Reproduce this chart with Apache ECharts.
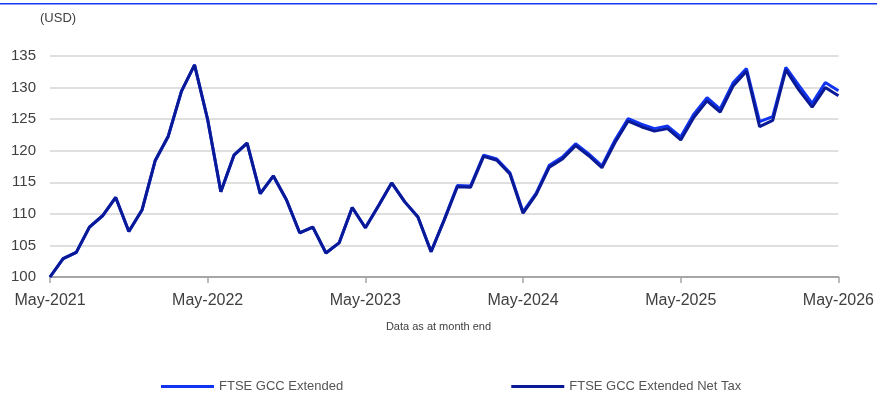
<!DOCTYPE html>
<html>
<head>
<meta charset="utf-8">
<script src="https://cdn.jsdelivr.net/npm/echarts@6/dist/echarts.min.js"></script>
<style>
  html, body { margin: 0; padding: 0; background: #fff; }
  #chart { width: 877px; height: 397px; }
</style>
</head>
<body>
<div id="chart"></div>
<script>
// month-end index levels, May-2021 .. May-2026
var months = [];
for (var y = 2021; y <= 2026; y++) {
  var mList = ['Jan','Feb','Mar','Apr','May','Jun','Jul','Aug','Sep','Oct','Nov','Dec'];
  for (var m = 0; m < 12; m++) {
    if (y === 2021 && m < 4) continue;
    if (y === 2026 && m > 4) break;
    months.push(mList[m] + '-' + y);
  }
}

var extended = [
  100, 102.9, 103.9, 107.9, 109.7, 112.6, 107.2, 110.6, 118.4, 122.3,
  129.4, 133.6, 124.9, 113.5, 119.3, 121.2, 113.2, 116.0, 112.2, 107.0,
  107.9, 103.8, 105.4, 111.0, 107.8, 111.3, 114.9, 111.9, 109.5, 104.0,
  109.1, 114.5, 114.4, 119.3, 118.7, 116.5, 110.3, 113.3, 117.7, 119.0,
  121.1, 119.5, 117.6, 121.7, 125.1, 124.2, 123.5, 123.9, 122.2, 125.8,
  128.4, 126.6, 130.8, 133.0, 124.6, 125.4, 133.2, 130.3, 127.5, 130.8,
  129.5
];

var netTax = [
  100, 102.9, 103.9, 107.9, 109.7, 112.6, 107.2, 110.6, 118.4, 122.3,
  129.4, 133.6, 124.9, 113.5, 119.3, 121.2, 113.2, 116.0, 112.2, 107.0,
  107.9, 103.8, 105.4, 111.0, 107.8, 111.3, 114.9, 111.9, 109.5, 104.0,
  109.0, 114.3, 114.2, 119.1, 118.5, 116.3, 110.1, 113.1, 117.4, 118.7,
  120.8, 119.2, 117.3, 121.3, 124.7, 123.8, 123.1, 123.5, 121.7, 125.3,
  127.9, 126.1, 130.3, 132.6, 123.8, 124.8, 132.8, 129.6, 126.9, 130.0,
  128.7
];

var chart = echarts.init(document.getElementById('chart'));
var option = {
  animation: false,
  textStyle: { fontFamily: 'Liberation Sans, Arial, sans-serif' },
  grid: { left: 50, right: 38, top: 56, bottom: 120 },
  graphic: [
    { type: 'rect', left: 0, top: 3, shape: { width: 877, height: 1.5 }, style: { fill: '#1438f5' } },
    { type: 'text', left: 40, top: 12, style: { text: '(USD)', font: '13px Liberation Sans', fill: '#404040' } },
    { type: 'text', left: 'center', top: 321, style: { text: 'Data as at month end', font: '11px Liberation Sans', fill: '#404040' } }
  ],
  legend: {
    top: 375,
    left: 156,
    itemGap: 168,
    itemWidth: 53,
    itemHeight: 3,
    icon: 'rect',
    textStyle: { fontSize: 13, color: '#555' },
    data: ['FTSE GCC Extended', 'FTSE GCC Extended Net Tax']
  },
  xAxis: {
    type: 'category',
    data: months,
    boundaryGap: false,
    axisLine: { lineStyle: { color: '#a6a6a6', width: 2 } },
    axisTick: { interval: 11, length: 6, lineStyle: { color: '#a6a6a6', width: 1.5 } },
    axisLabel: { interval: 11, fontSize: 16, color: '#404040', margin: 16 },
    splitLine: { show: false }
  },
  yAxis: {
    type: 'value',
    min: 100,
    max: 135,
    interval: 5,
    axisLine: { show: false },
    axisTick: { show: false },
    axisLabel: { fontSize: 15, color: '#404040', margin: 14 },
    splitLine: { lineStyle: { color: '#d4d4d4', width: 1.5 } }
  },
  series: [
    {
      name: 'FTSE GCC Extended',
      type: 'line',
      data: extended,
      showSymbol: false,
      lineStyle: { color: '#1034f0', width: 3 },
      itemStyle: { color: '#1034f0' }
    },
    {
      name: 'FTSE GCC Extended Net Tax',
      type: 'line',
      data: netTax,
      showSymbol: false,
      lineStyle: { color: '#0a1a96', width: 3 },
      itemStyle: { color: '#0a1a96' }
    }
  ]
};
chart.setOption(option);
</script>
</body>
</html>
